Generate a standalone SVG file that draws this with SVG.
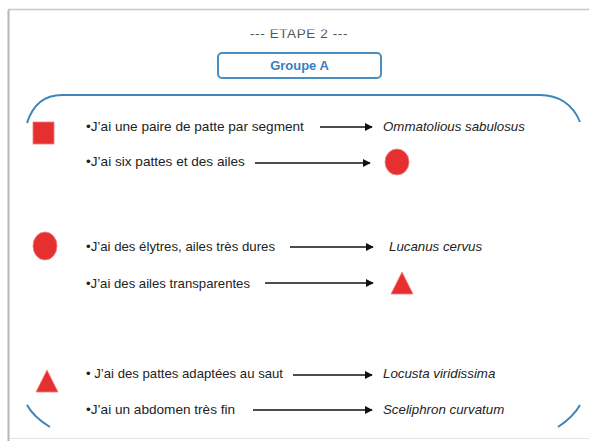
<svg xmlns="http://www.w3.org/2000/svg" width="589" height="441" viewBox="0 0 589 441">
<defs>
<style>
.t{font-family:"Liberation Sans",Arial,sans-serif;font-size:13.6px;fill:#222}
.i{font-family:"Liberation Sans",Arial,sans-serif;font-size:13.3px;fill:#222;font-style:italic}
.c{stroke:#111;stroke-width:1.6;fill:none;marker-end:url(#ah)}
.sh{fill:#e63030;stroke:#f08080;stroke-width:0.8}
.br{fill:none;stroke:#3f86b8;stroke-width:2}
</style>
<marker id="ah" viewBox="0 0 10 10" refX="9" refY="5" markerWidth="5" markerHeight="5" orient="auto" markerUnits="strokeWidth">
<path d="M0,0 L10,5 L0,10 z" fill="#111"/>
</marker>
<clipPath id="cut"><rect x="0" y="29.5" width="589" height="20"/></clipPath>
</defs>
<rect width="589" height="441" fill="#fff"/>
<g id="frame">
<line x1="8.5" y1="10" x2="8.5" y2="441" stroke="#b8b8b8" stroke-width="2"/>
<line x1="8" y1="9.5" x2="589" y2="9.5" stroke="#c8c8c8" stroke-width="1.5"/>
<line x1="10" y1="438.5" x2="589" y2="438.5" stroke="#e4e4e4" stroke-width="1"/>
</g>
<g id="title">
<text x="299" y="38" text-anchor="middle" clip-path="url(#cut)" style="font-family:'Liberation Sans',Arial,sans-serif;font-size:13.5px;fill:#555;letter-spacing:0.6px">--- ETAPE 2 ---</text>
</g>
<g id="groupeA">
<rect x="218" y="53" width="163" height="25" rx="4" fill="#fff" stroke="#4a8fc2" stroke-width="2"/>
<text x="299.5" y="70" text-anchor="middle" style="font-family:'Liberation Sans',Arial,sans-serif;font-size:13px;font-weight:bold;fill:#3c7fb8">Groupe A</text>
</g>
<g id="bracket">
<path class="br" d="M27,123 C33,104 45,95 62,95 L540,95 C558,95 573,104 580,122"/>
<path class="br" d="M27,405 C32,414 40,421 50,427"/>
<path class="br" d="M580,405 C575,414 567,421 558,427"/>
</g>
<g id="square1"><rect class="sh" x="33" y="122" width="21" height="22"/></g>
<g id="row1"><text class="t" x="86" y="131">•J’ai une paire de patte par segment</text></g>
<g id="res1"><text class="i" x="383" y="131">Ommatolious sabulosus</text></g>
<g id="row2"><text class="t" x="86" y="166">•J’ai six pattes et des ailes</text></g>
<g id="circle2"><ellipse class="sh" cx="397" cy="162" rx="12" ry="13"/></g>
<g id="circle3"><ellipse class="sh" cx="45" cy="246" rx="12" ry="14"/></g>
<g id="row3"><text class="t" x="86" y="251" textLength="189" lengthAdjust="spacingAndGlyphs">•J’ai des élytres, ailes très dures</text></g>
<g id="res3"><text class="i" x="389" y="251">Lucanus cervus</text></g>
<g id="row4"><text class="t" x="86" y="288" textLength="164" lengthAdjust="spacingAndGlyphs">•J’ai des ailes transparentes</text></g>
<g id="tri4"><polygon class="sh" points="402,272 413,294 391,294"/></g>
<g id="tri5"><polygon class="sh" points="47,370 58,392 36,392"/></g>
<g id="row5"><text class="t" x="86" y="378" textLength="197" lengthAdjust="spacingAndGlyphs">• J’ai des pattes adaptées au saut</text></g>
<g id="res5"><text class="i" x="383" y="378">Locusta viridissima</text></g>
<g id="row6"><text class="t" x="86" y="414">•J’ai un abdomen très fin</text></g>
<g id="res6"><text class="i" x="383" y="414">Sceliphron curvatum</text></g>
<g id="connectors">
<line class="c" x1="320" y1="127" x2="372" y2="127"/>
<line class="c" x1="255" y1="163" x2="370" y2="163"/>
<line class="c" x1="290" y1="247" x2="373" y2="247"/>
<line class="c" x1="265" y1="283" x2="373" y2="283"/>
<line class="c" x1="293" y1="375" x2="372" y2="375"/>
<line class="c" x1="253" y1="410" x2="372" y2="410"/>
</g>
</svg>
